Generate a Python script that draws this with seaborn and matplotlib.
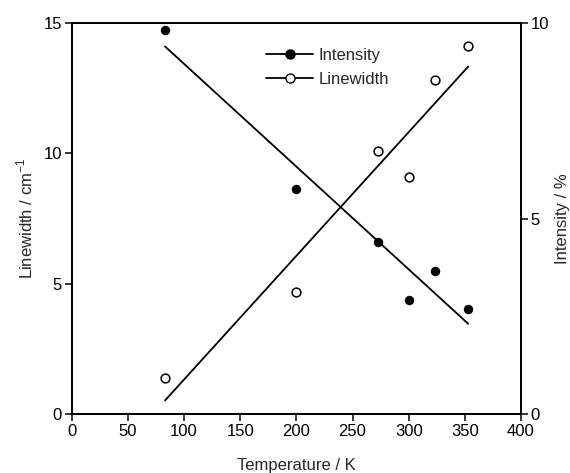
import numpy as np
import pandas as pd
import seaborn as sns
from matplotlib import pyplot as plt
from matplotlib.lines import Line2D

temperature = [83, 200, 273, 300, 323, 353]
linewidth = [1.38, 4.68, 10.09, 9.09, 12.81, 14.12]
intensity = [9.82, 5.75, 4.40, 2.92, 3.66, 2.69]

sns.set_style('ticks')
plt.rcParams['font.family'] = ['Liberation Sans', 'DejaVu Sans']
plt.rcParams['mathtext.fontset'] = 'custom'
plt.rcParams['mathtext.rm'] = 'Liberation Sans'

df = pd.DataFrame({'T': temperature, 'lw': linewidth, 'I': intensity})

fig = plt.figure(figsize=(5.7, 4.73), dpi=100)
ax = fig.add_axes([0.126, 0.1247, 0.788, 0.8267])
ax2 = ax.twinx()

sns.regplot(data=df, x='T', y='lw', ax=ax, ci=None,
            scatter_kws=dict(s=40, facecolors='white', edgecolors='black', linewidths=1.1, alpha=1),
            line_kws=dict(color='black', lw=1.3))
sns.regplot(data=df, x='T', y='I', ax=ax2, ci=None,
            scatter_kws=dict(s=46, color='black', linewidths=0, alpha=1),
            line_kws=dict(color='black', lw=1.3))

ax.set_xlim(0, 400)
ax.set_ylim(0, 15)
ax2.set_ylim(0, 10)
ax.set_xticks(range(0, 401, 50))
ax.set_yticks([0, 5, 10, 15])
ax2.set_yticks([0, 5, 10])

ax.set_xlabel('Temperature / K', fontsize=12, labelpad=14)
ax.set_ylabel('Linewidth / cm$^{-1}$', fontsize=12, labelpad=6)
ax2.set_ylabel('Intensity / %', fontsize=12, labelpad=4)

for a in (ax, ax2):
    for s in a.spines.values():
        s.set_linewidth(1.3)
        s.set_color('black')
    a.tick_params(direction='out', length=5, width=1.1, labelsize=12, colors='black', pad=2)

handles = [
    Line2D([], [], color='black', lw=1.3, marker='o', markersize=6.5, markerfacecolor='black'),
    Line2D([], [], color='black', lw=1.3, marker='o', markersize=6.5, markerfacecolor='white'),
]
ax.legend(handles, ['Intensity', 'Linewidth'], loc='upper left', bbox_to_anchor=(0.4, 0.975),
          frameon=False, fontsize=12, handlelength=2.8, handletextpad=0.3, labelspacing=0.55)

fig.savefig('out.png', dpi=100)
